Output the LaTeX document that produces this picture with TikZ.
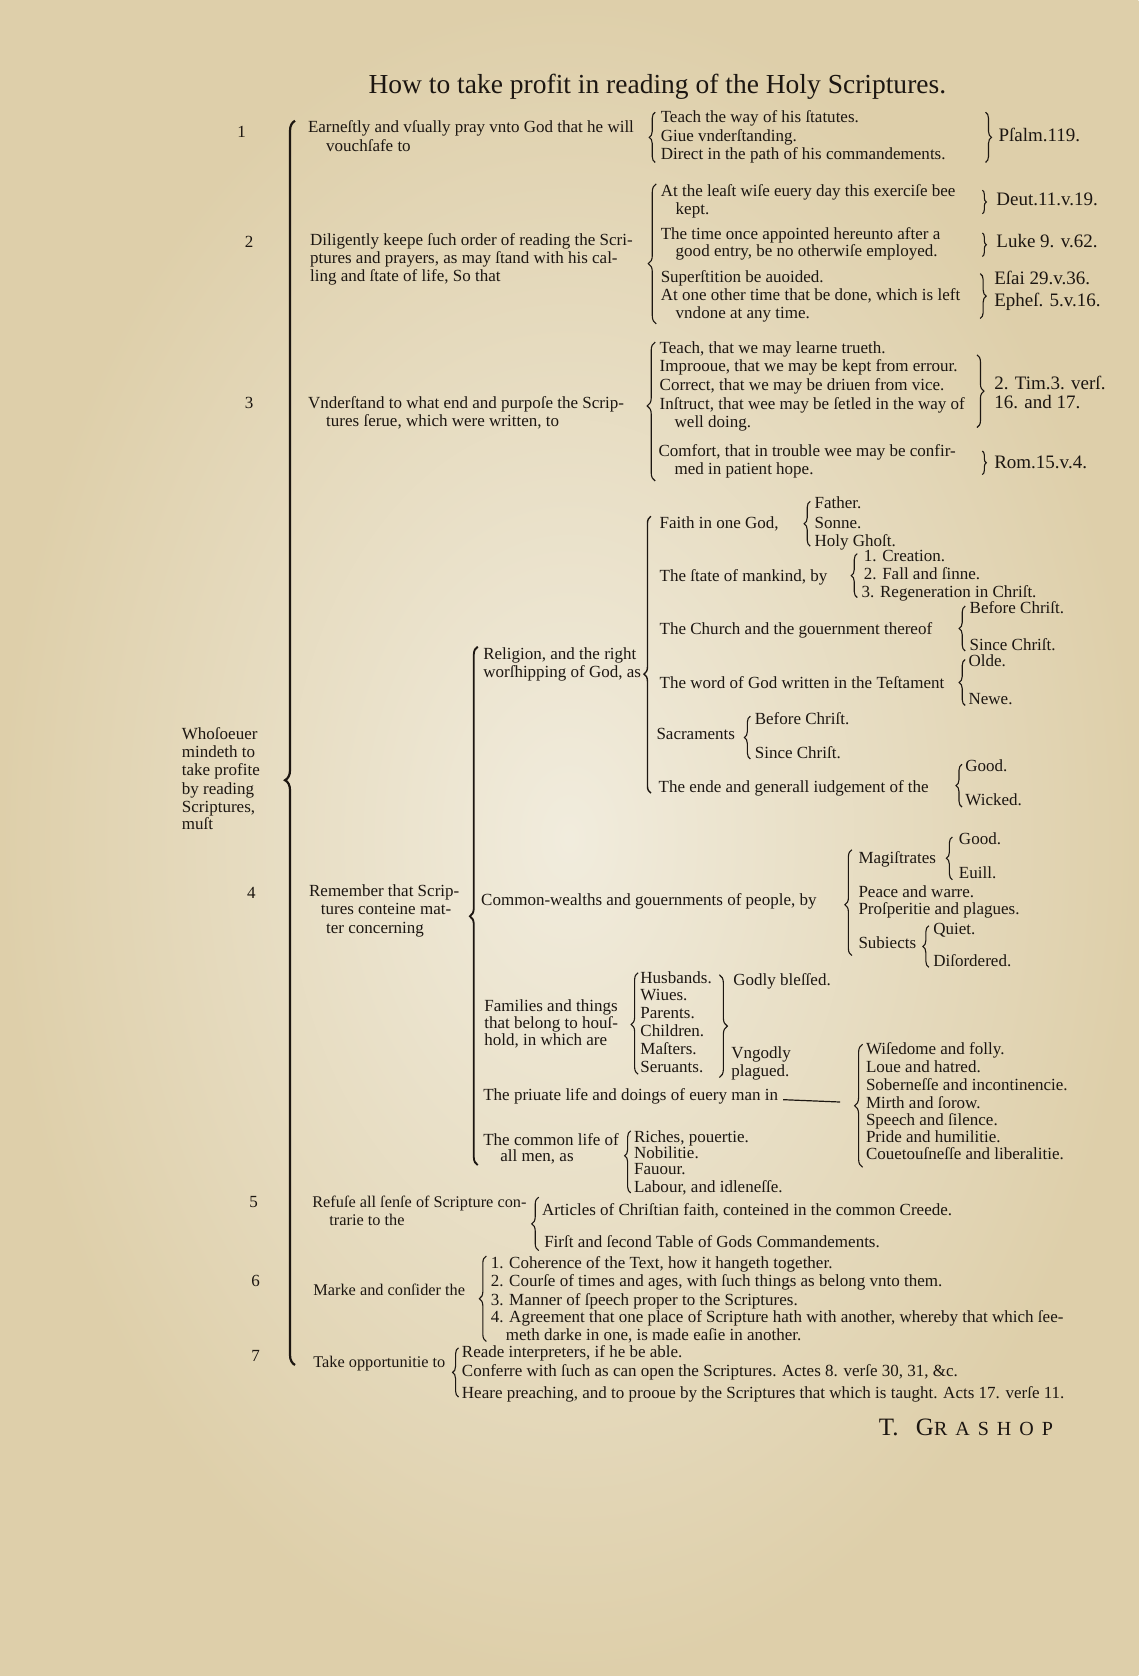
\documentclass[tikz,border=0pt]{standalone}
\usepackage{fontspec}
\setmainfont{Liberation Serif}
\usetikzlibrary{decorations.pathreplacing}
\definecolor{paper}{RGB}{241,236,221}
\definecolor{paperedge}{RGB}{222,207,170}
\definecolor{ink}{RGB}{28,22,17}
\newcommand{\fs}{\fontsize{17}{19}\selectfont}
\newcommand{\fsm}{\fontsize{16.3}{19}\selectfont}
\newcommand{\fsr}{\fontsize{19}{21}\selectfont}
\begin{document}
\begin{tikzpicture}[x=1.0685pt,y=-1.0685pt,
  t/.style={anchor=west, inner sep=0pt, text height=12pt, text depth=3.5pt, font=\fs, text=ink},
  tm/.style={t, font=\fsm},
  tr/.style={t, font=\fsr},
  br/.style={decorate, decoration={brace, amplitude=#1}, line width=1.1pt, draw=ink},
  br/.default=6pt,
  bigbr/.style={br=#1, line width=2.2pt},
  bigbr/.default=10pt]
\useasboundingbox (0,0) rectangle (1065,1568);
\shade[inner color=paper, outer color=paperedge] (0,0) rectangle (1065,1568);

% title
\node[inner sep=0pt, font=\fontsize{27.5}{32}\selectfont, text=ink] (title) at (615,81) {How to take profit in reading of the Holy Scriptures.};

% numbers
\node[t] (n1) at (222,125) {1};
\node[t] (n2) at (229,228) {2};
\node[t] (n3) at (229,378) {3};
\node[t] (n4) at (231,837) {4};
\node[t] (n5) at (233,1126) {5};
\node[t] (n6) at (235,1200) {6};
\node[t] (n7) at (235,1270) {7};

% root
\node[t] (w1) at (170,688) {Whoſoeuer};
\node[t] (w2) at (170,705) {mindeth to};
\node[t] (w3) at (170,722) {take profite};
\node[t] (w4) at (170,739) {by reading};
\node[t] (w5) at (170,756) {Scriptures,};
\node[t] (w6) at (170,772) {muſt};
\draw[bigbr=10pt, decoration={aspect=0.47}] (276,1277) -- (276,113);

% section 1
\node[t] (s1a) at (288,120) {Earneſtly and vſually pray vnto God that he will};
\node[t] (s1b) at (305,138) {vouchſafe to};
\draw[br=6pt] (613,152) -- (613,105);
\node[t] (s1i1) at (618,111) {Teach the way of his ſtatutes.};
\node[t] (s1i2) at (618,128) {Giue vnderſtanding.};
\node[t] (s1i3) at (618,145) {Direct in the path of his commandements.};
\draw[br=6pt] (922,105) -- (922,152);
\node[tr] (s1r) at (934,128) {Pſalm.119.};

% section 2
\node[t] (s2a) at (290,226) {Diligently keepe ſuch order of reading the Scri-};
\node[t] (s2b) at (290,243) {ptures and prayers, as may ſtand with his cal-};
\node[t] (s2c) at (290,259) {ling and ſtate of life, So that};
\draw[br=8pt, decoration={aspect=0.43}] (614,303) -- (614,172);
\node[t] (s2i1) at (618,180) {At the leaſt wiſe euery day this exerciſe bee};
\node[t] (s2i1b) at (632,197) {kept.};
\node[t] (s2i2) at (618,220) {The time once appointed hereunto after a};
\node[t] (s2i2b) at (632,236) {good entry, be no otherwiſe employed.};
\node[t] (s2i3) at (618,260) {Superſtition be auoided.};
\node[t] (s2i4) at (618,277) {At one other time that be done, which is left};
\node[t] (s2i4b) at (632,294) {vndone at any time.};
\draw[br=4pt] (919,178) -- (919,200);
\node[tr] (s2r1) at (932,188) {Deut.11.v.19.};
\draw[br=4pt] (919,218) -- (919,240);
\node[tr] (s2r2) at (932,228) {Luke 9. v.62.};
\draw[br=6pt] (917,256) -- (917,298);
\node[tr] (s2r3) at (930,262) {Eſai 29.v.36.};
\node[tr] (s2r4) at (930,283) {Epheſ. 5.v.16.};

% section 3
\node[t] (s3a) at (288,378) {Vnderſtand to what end and purpoſe the Scrip-};
\node[t] (s3b) at (305,395) {tures ſerue, which were written, to};
\draw[br=8pt, decoration={aspect=0.54}] (613,450) -- (613,320);
\node[t] (s3i1) at (617,327) {Teach, that we may learne trueth.};
\node[t] (s3i2) at (617,344) {Improoue, that we may be kept from errour.};
\node[t] (s3i3) at (617,361) {Correct, that we may be driuen from vice.};
\node[t] (s3i4) at (617,379) {Inſtruct, that wee may be ſetled in the way of};
\node[t] (s3i4b) at (631,396) {well doing.};
\node[t] (s3i5) at (616,423) {Comfort, that in trouble wee may be confir-};
\node[t] (s3i5b) at (631,440) {med in patient hope.};
\draw[br=7pt] (914,332) -- (914,400);
\node[tr] (s3r1) at (930,360) {2. Tim.3. verſ.};
\node[tr] (s3r2) at (930,378) {16. and 17.};
\draw[br=4pt] (919,422) -- (919,444);
\node[tr] (s3r3) at (930,434) {Rom.15.v.4.};

% section 4
\node[t] (s4a) at (289,835) {Remember that Scrip-};
\node[t] (s4b) at (300,852) {tures conteine mat-};
\node[t] (s4c) at (305,869) {ter concerning};
\draw[bigbr=8pt, line width=1.8pt, decoration={aspect=0.48}] (447,1090) -- (447,605);

% religion
\node[t] (rel1) at (452,613) {Religion, and the right};
\node[t] (rel2) at (452,630) {worſhipping of God, as};
\draw[br=7pt, line width=1.4pt, decoration={aspect=0.43}] (609,742) -- (609,483);
\node[t] (fa) at (617,490) {Faith in one God,};
\draw[br=6pt] (758,511) -- (758,469);
\node[t] (fa1) at (762,472) {Father.};
\node[t] (fa2) at (762,490) {Sonne.};
\node[t] (fa3) at (762,507) {Holy Ghoſt.};
\node[t] (sm) at (617,540) {The ſtate of mankind, by};
\draw[br=6pt] (802,559) -- (802,518);
\node[t] (sm1) at (808,521) {1. Creation.};
\node[t] (sm2) at (808,538) {2. Fall and ſinne.};
\node[t] (sm3) at (806,555) {3. Regeneration in Chriſt.};
\node[t] (ch) at (617,590) {The Church and the gouernment thereof};
\draw[br=6pt] (903,609) -- (903,567);
\node[t] (ch1) at (907,570) {Before Chriſt.};
\node[t] (ch2) at (907,605) {Since Chriſt.};
\node[t] (wg) at (617,640) {The word of God written in the Teſtament};
\draw[br=6pt] (903,660) -- (903,617);
\node[t] (wg1) at (906,620) {Olde.};
\node[t] (wg2) at (906,655) {Newe.};
\node[t] (sa) at (614,688) {Sacraments};
\draw[br=6pt] (702,710) -- (702,670);
\node[t] (sa1) at (706,674) {Before Chriſt.};
\node[t] (sa2) at (706,706) {Since Chriſt.};
\node[t] (ju) at (616,737) {The ende and generall iudgement of the};
\draw[br=6pt] (900,755) -- (900,715);
\node[t] (ju1) at (903,718) {Good.};
\node[t] (ju2) at (903,750) {Wicked.};

% commonwealths
\node[t] (cw) at (450,843) {Common-wealths and gouernments of people, by};
\draw[br=7pt, decoration={aspect=0.48}] (797,894) -- (797,795);
\node[t] (ma) at (803,804) {Magiſtrates};
\draw[br=6pt] (891,823) -- (891,783);
\node[t] (ma1) at (897,786) {Good.};
\node[t] (ma2) at (897,818) {Euill.};
\node[t] (pw) at (803,836) {Peace and warre.};
\node[t] (pp) at (803,852) {Proſperitie and plagues.};
\node[t] (su) at (803,883) {Subiects};
\draw[br=6pt] (869,905) -- (869,866);
\node[t] (su1) at (873,870) {Quiet.};
\node[t] (su2) at (873,900) {Diſordered.};

% families
\node[t] (fm1) at (453,942) {Families and things};
\node[t] (fm2) at (453,958) {that belong to houſ-};
\node[t] (fm3) at (453,974) {hold, in which are};
\draw[br=7pt, decoration={aspect=0.49}] (597,1005) -- (597,910);
\node[t] (f1) at (599,916) {Husbands.};
\node[t] (f2) at (599,932) {Wiues.};
\node[t] (f3) at (599,949) {Parents.};
\node[t] (f4) at (599,966) {Children.};
\node[t] (f5) at (599,983) {Maſters.};
\node[t] (f6) at (599,999) {Seruants.};
\draw[br=8pt, decoration={aspect=0.5}] (673,912) -- (673,1008);
\node[t] (gb) at (686,918) {Godly bleſſed.};
\node[t] (ug1) at (684,986) {Vngodly};
\node[t] (ug2) at (684,1003) {plagued.};

% private life
\node[t] (pv) at (452,1026) {The priuate life and doings of euery man in};
\coordinate (pvend) at (786,1031);
\draw[line width=1.2pt, ink] ([xshift=5pt,yshift=-3pt]pv.east) -- (pvend);
\draw[br=8pt, decoration={aspect=0.5}] (807,1092) -- (807,977);
\node[t] (p1) at (810,983) {Wiſedome and folly.};
\node[t] (p2) at (810,999) {Loue and hatred.};
\node[t] (p3) at (810,1016) {Soberneſſe and incontinencie.};
\node[t] (p4) at (810,1033) {Mirth and ſorow.};
\node[t] (p5) at (810,1049) {Speech and ſilence.};
\node[t] (p6) at (810,1065) {Pride and humilitie.};
\node[t] (p7) at (810,1081) {Couetouſneſſe and liberalitie.};

% common life
\node[t] (cl1) at (452,1068) {The common life of};
\node[t] (cl2) at (468,1083) {all men, as};
\draw[br=6pt, decoration={aspect=0.6}] (590,1116) -- (590,1058);
\node[t] (c1) at (593,1065) {Riches, pouertie.};
\node[t] (c2) at (593,1080) {Nobilitie.};
\node[t] (c3) at (593,1095) {Fauour.};
\node[t] (c4) at (593,1112) {Labour, and idleneſſe.};

% section 5
\node[tm] (s5a) at (292,1126) {Refuſe all ſenſe of Scripture con-};
\node[tm] (s5b) at (308,1143) {trarie to the};
\draw[br=7pt] (504,1170) -- (504,1120);
\node[t] (s5i1) at (507,1133) {Articles of Chriſtian faith, conteined in the common Creede.};
\node[t] (s5i2) at (509,1163) {Firſt and ſecond Table of Gods Commandements.};

% section 6
\node[tm] (s6a) at (293,1208) {Marke and conſider the};
\draw[br=7pt] (455,1255) -- (455,1175);
\node[t] (s6i1) at (459,1183) {1. Coherence of the Text, how it hangeth together.};
\node[t] (s6i2) at (459,1200) {2. Courſe of times and ages, with ſuch things as belong vnto them.};
\node[t] (s6i3) at (459,1217) {3. Manner of ſpeech proper to the Scriptures.};
\node[t] (s6i4) at (459,1233) {4. Agreement that one place of Scripture hath with another, whereby that which ſee-};
\node[t] (s6i4b) at (473,1250) {meth darke in one, is made eaſie in another.};

% section 7
\node[tm] (s7a) at (293,1275) {Take opportunitie to};
\draw[br=6pt] (429,1307) -- (429,1261);
\node[t] (s7i1) at (432,1266) {Reade interpreters, if he be able.};
\node[t] (s7i2) at (432,1284) {Conferre with ſuch as can open the Scriptures. Actes 8. verſe 30, 31, \&c.};
\node[t] (s7i3) at (432,1304) {Heare preaching, and to prooue by the Scriptures that which is taught. Acts 17. verſe 11.};

% signature
\node[anchor=west, inner sep=0pt, text=ink, font=\fontsize{25}{28}\selectfont] (sig) at (822,1335) {T.\hspace{0.7em}G{\fontsize{20}{22}\selectfont\addfontfeature{LetterSpace=40}RASHOP}};
\end{tikzpicture}
\end{document}
